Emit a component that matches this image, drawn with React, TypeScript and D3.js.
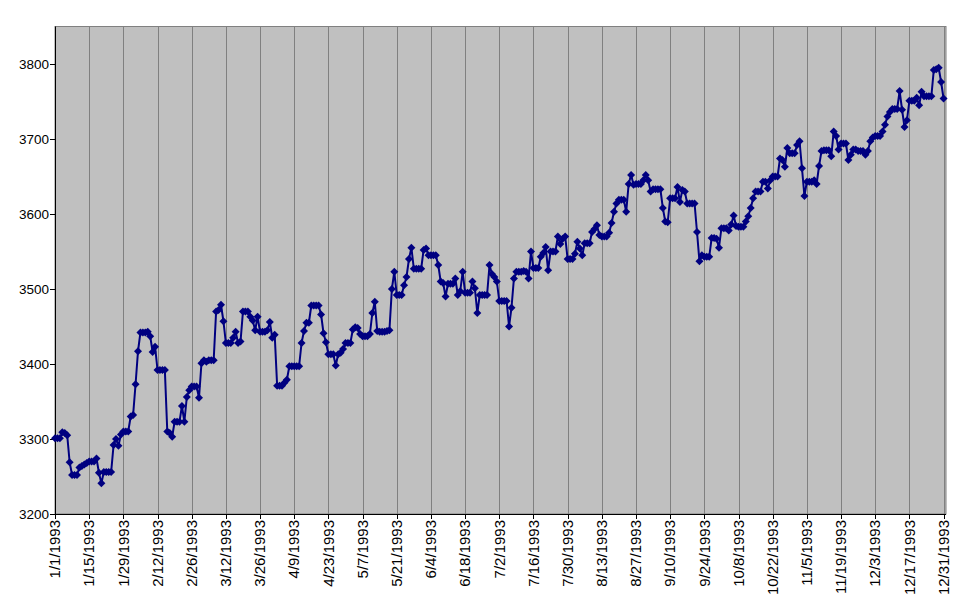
import React, { useEffect, useRef } from "react";
import * as d3 from "d3";

// Daily values (weekends/holidays carry the previous close), one array per month of 1993
const jan = [3301,3301,3301,3309,3308,3305,3269,3252,3252,3252,3262,3264,3266,3268,3270,3270,3270,3274,3255,3241,3256,3256,3256,3256,3292,3300,3291,3306,3310,3310,3310];
const feb = [3330,3332,3373,3417,3442,3442,3442,3443,3437,3416,3423,3392,3392,3392,3392,3310,3308,3303,3323,3323,3323,3344,3323,3356,3365,3370,3370,3370];
const mar = [3355,3401,3405,3403,3405,3405,3405,3470,3472,3479,3457,3428,3428,3428,3435,3443,3428,3430,3470,3470,3470,3463,3458,3445,3463,3443,3443,3443,3445,3456,3435];
const apr = [3439,3371,3371,3371,3375,3379,3397,3397,3397,3397,3397,3428,3444,3455,3455,3478,3478,3478,3478,3466,3441,3429,3413,3413,3413,3398,3413,3415,3420,3428];
const may = [3428,3428,3446,3449,3448,3440,3437,3437,3437,3440,3468,3483,3444,3443,3443,3443,3444,3445,3500,3523,3492,3492,3492,3505,3516,3540,3555,3527,3527,3527,3527];
const jun = [3552,3554,3545,3545,3545,3545,3532,3510,3508,3490,3507,3507,3507,3514,3492,3497,3523,3495,3495,3495,3510,3501,3468,3492,3492,3492,3492,3532,3520,3516];
const jul = [3510,3484,3484,3484,3484,3450,3475,3514,3523,3523,3523,3524,3523,3514,3550,3528,3528,3528,3543,3548,3556,3525,3550,3550,3550,3570,3560,3567,3570,3540,3540];
const aug = [3540,3547,3563,3554,3545,3561,3561,3561,3576,3580,3585,3572,3570,3570,3570,3575,3588,3603,3614,3619,3619,3619,3603,3640,3652,3639,3640,3640,3640,3645,3652];
const sep = [3645,3630,3633,3633,3633,3633,3608,3590,3589,3621,3621,3621,3636,3616,3632,3630,3614,3614,3614,3614,3576,3537,3545,3543,3543,3543,3568,3568,3567,3555];
const oct = [3581,3581,3581,3578,3586,3598,3584,3583,3583,3583,3590,3597,3608,3621,3630,3630,3630,3643,3643,3634,3645,3650,3650,3650,3674,3672,3663,3688,3681,3681,3681];
const nov = [3692,3697,3661,3624,3643,3643,3643,3645,3640,3664,3684,3685,3685,3685,3677,3710,3704,3686,3694,3694,3694,3672,3679,3686,3686,3684,3684,3684,3679,3684];
const dec = [3697,3702,3704,3704,3704,3710,3719,3730,3736,3740,3740,3740,3764,3739,3716,3725,3751,3751,3751,3755,3745,3763,3757,3757,3757,3757,3792,3793,3795,3776,3754];

const yTicks = [3200, 3300, 3400, 3500, 3600, 3700, 3800];
const xTickLabels = [
  "1/1/1993","1/15/1993","1/29/1993","2/12/1993","2/26/1993","3/12/1993","3/26/1993",
  "4/9/1993","4/23/1993","5/7/1993","5/21/1993","6/4/1993","6/18/1993","7/2/1993",
  "7/16/1993","7/30/1993","8/13/1993","8/27/1993","9/10/1993","9/24/1993","10/8/1993",
  "10/22/1993","11/5/1993","11/19/1993","12/3/1993","12/17/1993","12/31/1993",
];

const W = 971, H = 605;
const L = 55, R = 946, T = 26.5, B = 514;
const FONT = "Arial, 'Liberation Sans', sans-serif";

export default function App() {
  const ref = useRef<SVGSVGElement>(null);
  useEffect(() => {
    const svg = d3.select(ref.current);
    svg.selectAll("*").remove();
    const values = [...jan, ...feb, ...mar, ...apr, ...may, ...jun, ...jul, ...aug, ...sep, ...oct, ...nov, ...dec];
    const start = new Date(1993, 0, 1);
    const data = values.map((v, i) => ({ date: d3.timeDay.offset(start, i), v }));
    const parse = d3.timeParse("%m/%d/%Y");
    const ticks = xTickLabels.map((s) => ({ s, date: parse(s) as Date }));

    const x = d3.scaleTime().domain([start, new Date(1994, 0, 1)]).range([L, R]);
    const y = d3.scaleLinear().domain([3200, 3850]).range([B, T]);

    svg.append("rect").attr("x", 0).attr("y", 0).attr("width", W).attr("height", H).attr("fill", "#ffffff");
    svg.append("rect").attr("x", L).attr("y", T).attr("width", R - L).attr("height", B - T)
      .attr("fill", "#c0c0c0").attr("stroke", "#808080").attr("stroke-width", 1);

    // vertical gridlines
    svg.append("g").selectAll("line").data(ticks.slice(1)).join("line")
      .attr("x1", (d) => Math.round(x(d.date)) + 0.5).attr("x2", (d) => Math.round(x(d.date)) + 0.5)
      .attr("y1", T).attr("y2", B)
      .attr("stroke", "#808080").attr("stroke-width", 1);

    // axes lines
    svg.append("line").attr("x1", L + 0.5).attr("x2", L + 0.5).attr("y1", T).attr("y2", B + 0.5)
      .attr("stroke", "#000").attr("stroke-width", 1);
    svg.append("line").attr("x1", L).attr("x2", R).attr("y1", B + 0.5).attr("y2", B + 0.5)
      .attr("stroke", "#000").attr("stroke-width", 1);

    // y ticks + labels
    const yg = svg.append("g");
    yg.selectAll("line").data(yTicks).join("line")
      .attr("x1", L - 5).attr("x2", L).attr("y1", (d) => Math.round(y(d)) + 0.5).attr("y2", (d) => Math.round(y(d)) + 0.5)
      .attr("stroke", "#000");
    yg.selectAll("text").data(yTicks).join("text")
      .attr("x", L - 6).attr("y", (d) => y(d)).attr("dy", "0.35em")
      .attr("text-anchor", "end").attr("font-family", FONT).attr("font-size", 13.5).attr("fill", "#000")
      .text((d) => String(d));

    // x ticks + labels
    const xg = svg.append("g");
    xg.selectAll("line").data(ticks).join("line")
      .attr("x1", (d) => Math.round(x(d.date)) + 0.5).attr("x2", (d) => Math.round(x(d.date)) + 0.5)
      .attr("y1", B).attr("y2", B + 5).attr("stroke", "#000");
    xg.selectAll("text").data(ticks).join("text")
      .attr("transform", (d) => `translate(${x(d.date)},${B + 6}) rotate(-90)`)
      .attr("dy", "0.35em").attr("text-anchor", "end")
      .attr("font-family", FONT).attr("font-size", 15).attr("fill", "#000")
      .text((d) => d.s);

    // line
    const line = d3.line<{ date: Date; v: number }>().x((d) => x(d.date)).y((d) => y(d.v));
    svg.append("path").datum(data).attr("d", line).attr("fill", "none")
      .attr("stroke", "#000080").attr("stroke-width", 2).attr("stroke-linejoin", "round");

    // diamond markers
    const r = 4;
    svg.append("g").selectAll("path").data(data).join("path")
      .attr("d", (d) => {
        const cx = x(d.date), cy = y(d.v);
        return `M${cx},${cy - r}L${cx + r},${cy}L${cx},${cy + r}L${cx - r},${cy}Z`;
      })
      .attr("fill", "#000080").attr("stroke", "none");
  }, []);
  return (
    <svg ref={ref} width={W} height={H}
      style={{ position: "fixed", left: 0, top: 0, display: "block" }} />
  );
}
